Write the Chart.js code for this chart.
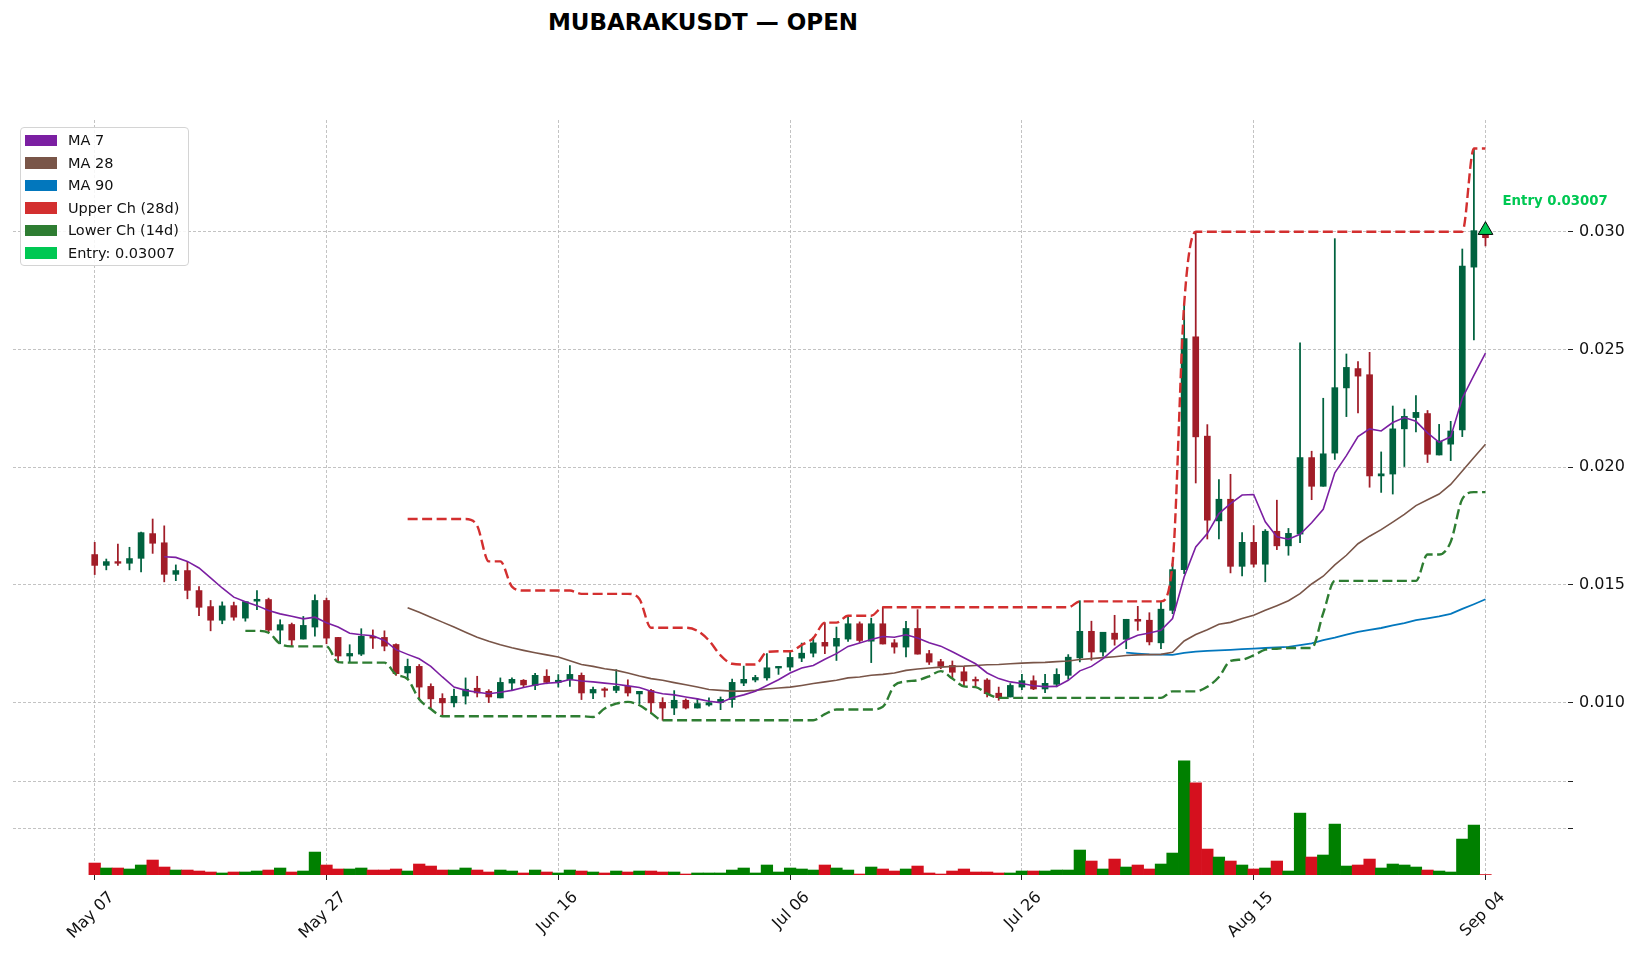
<!DOCTYPE html>
<html>
<head>
<meta charset="utf-8">
<title>MUBARAKUSDT — OPEN</title>
<script src="https://cdn.jsdelivr.net/npm/chart.js@4.4.1/dist/chart.umd.min.js"></script>
<style>
    html, body { margin: 0; padding: 0; background: #fff; }
    #wrap { position: relative; width: 1638px; height: 955px; font-family: 'DejaVu Sans', sans-serif; overflow: hidden; }
    #chart-title { position: absolute; left: 0; top: 11px; width: 1406px; text-align: center; font-weight: bold; font-size: 23px; line-height: 23px; color: #000; }
    #price-chart { position: absolute; left: 0; top: 0; }
    #volume-chart { position: absolute; left: 0; top: 750px; }
    #chart-legend { position: absolute; left: 20px; top: 127px; width: 169px; height: 139px; box-sizing: border-box;
        border: 1px solid #d4d4d4; border-radius: 4px; background: rgba(255, 255, 255, 0.85); padding-top: 1px; }
    .legend-row { height: 22.5px; display: flex; align-items: center; font-size: 14.5px; color: #111; }
    .legend-patch { width: 32px; height: 11.5px; margin-left: 4px; margin-right: 11px; }
</style>
</head>
<body>
<div id="wrap">
    <div id="chart-title">MUBARAKUSDT — OPEN</div>
    <canvas id="price-chart" width="1638" height="760"></canvas>
    <canvas id="volume-chart" width="1638" height="205"></canvas>
    <div id="chart-legend"></div>
</div>
<script>
// day index 0 = May 07, 120 = Sep 04
const tickDays = [0, 20, 40, 60, 80, 100, 120];
const tickLabels = ['May 07', 'May 27', 'Jun 16', 'Jul 06', 'Jul 26', 'Aug 15', 'Sep 04'];
const priceTicks = [0.010, 0.015, 0.020, 0.025, 0.030];
const volumeTicks = [10, 20];

const opens = [
    .01629, .01583, .01599, .01592, .01613, .01718, .01679, .01545, .01561, .01476,
    .01408, .0135, .01412, .01359, .01431, .01438, .01308, .01332, .0127, .01321,
    .01434, .01277, .01198, .01206, .01282, .01277, .01247, .01126, .01154, .01069,
    .01018, .00999, .01028, .01061, .01048, .0102, .01083, .01095, .01073, .01112,
    .01086, .01097, .01116, .01041, .01056, .01052, .01069, .01037, .01052, .01001,
    .00977, .0101, .00977, .0099, .01, .01013, .01083, .01096, .01105, .01147,
    .01151, .01189, .0121, .01256, .0124, .0127, .01335, .01261, .01335, .01254,
    .01236, .01315, .01208, .01174, .01158, .01131, .01096, .01096, .0104, .01024,
    .01066, .01093, .01058, .01078, .01116, .0119, .01303, .01215, .01295, .01269,
    .01354, .0135, .01254, .01392, .01565, .02554, .02132, .01772, .01864, .01579,
    .01681, .01588, .01728, .01666, .01716, .02041, .01919, .0206, .02337, .02419,
    .02393, .01963, .01971, .02163, .02211, .02228, .02052, .02098, .02158, .0285,
    .03007
];
const highs = [
    .01681, .0161, .01674, .0166, .01725, .0178, .01751, .01585, .01596, .01493,
    .01434, .01428, .01427, .01429, .01476, .01444, .01352, .01338, .01366, .01458,
    .01444, .01277, .01246, .01314, .01309, .01305, .0125, .01185, .01162, .0108,
    .01038, .01058, .01105, .01112, .01055, .01105, .01105, .01098, .01124, .0114,
    .01119, .01157, .01126, .01066, .01064, .0114, .01097, .01048, .01056, .01021,
    .01051, .01016, .01017, .0102, .01024, .011, .01155, .01116, .01208, .01154,
    .01216, .01253, .01278, .0134, .01321, .01369, .01343, .01359, .01405, .01268,
    .01345, .01395, .01222, .01184, .01177, .01151, .01109, .01102, .01066, .01081,
    .0112, .01114, .0112, .01144, .01204, .01433, .01346, .01299, .01371, .01354,
    .01409, .01382, .01428, .01591, .0269, .030, .02181, .01948, .0197, .01722,
    .01752, .01735, .0186, .0174, .02528, .02068, .02293, .02971, .02481, .02449,
    .02488, .02065, .0226, .02247, .02304, .02241, .02182, .02195, .02927, .03354,
    .03007
];
const lows = [
    .01544, .01564, .01583, .01564, .01555, .01634, .01513, .01518, .01441, .01369,
    .01305, .01335, .0135, .01346, .01395, .01297, .0125, .01239, .0127, .01282,
    .0125, .01172, .01174, .012, .0123, .0122, .01116, .011, .01014, .00973,
    .00942, .00982, .00994, .01024, .01, .0102, .01052, .01066, .01055, .0108,
    .01066, .01069, .01013, .01017, .01024, .01042, .01028, .00996, .00956, .00925,
    .00949, .00973, .00977, .00985, .0097, .0098, .01072, .01088, .01095, .0112,
    .01137, .01174, .01194, .01208, .01179, .0126, .01256, .0117, .01249, .0121,
    .01194, .01206, .01162, .01144, .01106, .01071, .01069, .01024, .0101, .01024,
    .01055, .01055, .01042, .01067, .01099, .01173, .0118, .01197, .01244, .01229,
    .01307, .01245, .01229, .01378, .01548, .01933, .01695, .01695, .01551, .01538,
    .01576, .01513, .0165, .01626, .0168, .01862, .01919, .02033, .02215, .02231,
    .01915, .01893, .01886, .02003, .0215, .0202, .02052, .02028, .0213, .02541,
    .0294
];
const closes = [
    .01583, .01599, .01592, .01612, .01722, .01677, .01545, .01561, .01477, .01405,
    .0135, .01411, .01363, .01429, .01439, .01308, .01331, .01266, .01328, .01434,
    .01274, .01198, .01209, .01282, .01274, .0124, .01123, .01154, .01066, .01016,
    .00999, .01027, .01057, .01041, .01024, .01086, .01099, .01075, .01116, .01086,
    .01095, .0112, .01041, .01056, .01052, .01069, .01041, .01048, .00999, .00977,
    .0101, .00977, .00996, .01, .01014, .01086, .01099, .01107, .01148, .01154,
    .01192, .0121, .01254, .0124, .01273, .01335, .01264, .01335, .01249, .01236,
    .01315, .01206, .01172, .01154, .01129, .01092, .01092, .01038, .01021, .01073,
    .01093, .01058, .01082, .0112, .01193, .01303, .01215, .01299, .01269, .01354,
    .01346, .01258, .01397, .01565, .02547, .02129, .01775, .01864, .01579, .01681,
    .01588, .01728, .01666, .01719, .02041, .01919, .02057, .02338, .02424, .02387,
    .01963, .01972, .02163, .02216, .02233, .02055, .02111, .02154, .02854, .03005,
    .02975
];
// volume in millions
const volumes = [
    2.55, 1.49, 1.49, 1.28, 2.13, 3.19, 1.70, 1.06, 1.06, 0.85,
    0.64, 0.43, 0.64, 0.64, 0.85, 1.06, 1.49, 0.64, 0.85, 4.89,
    2.13, 1.28, 1.28, 1.49, 1.06, 1.06, 1.28, 0.85, 2.34, 1.91,
    1.06, 1.06, 1.49, 1.06, 0.64, 1.06, 0.85, 0.43, 1.06, 0.64,
    0.43, 1.06, 0.85, 0.64, 0.43, 0.85, 0.64, 0.85, 0.85, 0.64,
    0.64, 0.21, 0.43, 0.43, 0.43, 1.06, 1.49, 0.43, 2.13, 0.64,
    1.49, 1.28, 1.06, 2.13, 1.49, 1.06, 0.21, 1.70, 1.28, 0.85,
    1.28, 1.91, 0.43, 0.21, 0.85, 1.28, 0.64, 0.64, 0.43, 0.43,
    0.85, 0.85, 0.85, 1.06, 1.06, 5.32, 2.98, 1.28, 3.40, 1.70,
    2.13, 1.28, 2.34, 4.68, 24.33, 19.65, 5.53, 3.83, 2.98, 2.13,
    1.28, 1.49, 2.98, 0.85, 13.19, 3.83, 4.26, 10.85, 1.91, 2.13,
    3.40, 1.49, 2.34, 2.13, 1.70, 1.06, 0.85, 0.64, 7.66, 10.64,
    0.10
];

// indicator lines, each starts at its own day index
const ma7Start = 6;
const ma7 = [
    .0162, .01617, .016, .01572, .0153, .01487, .01448, .01429, .01412, .01391,
    .01377, .01367, .01356, .01363, .01339, .01321, .01295, .01288, .01284, .01264,
    .01225, .01205, .01186, .01154, .01109, .01066, .01052, .01044, .01038, .01044,
    .01052, .01064, .01075, .01082, .01086, .01098, .01092, .01088, .01083, .01078,
    .01071, .01064, .01048, .01038, .01033, .01024, .01016, .01006, .01, .01021,
    .01033, .01048, .01073, .01097, .01126, .01147, .01158, .01184, .01208, .01239,
    .01253, .01268, .01281, .01278, .01288, .01275, .01254, .0124, .01216, .01191,
    .01165, .01126, .01102, .01088, .01081, .01072, .01068, .01069, .01095, .01135,
    .01154, .01187, .01229, .01265, .01286, .01296, .01307, .01357, .01534, .01661,
    .01718, .01803, .01845, .01882, .01884, .01768, .01705, .01694, .01715, .01764,
    .01821, .01976, .02049, .0213, .02163, .02154, .0219, .02211, .02195, .02146,
    .02106, .0213, .02293, .0239, .02485
];
const ma28Start = 27;
const ma28 = [
    .01403, .01384, .01363,
    .01342, .01321, .01299, .01278, .01261, .01246, .01233, .01222, .01212, .01203,
    .01194, .01178, .01162, .01154, .01144, .01137, .01126, .01113, .01102, .01095,
    .01085, .01076, .01066, .01056, .01052, .01049, .01049, .01052, .01058, .01062,
    .01066, .01073, .01081, .01088, .01095, .01105, .01109, .01116, .0112, .01126,
    .01137, .01143, .01147, .01151, .01154, .01155, .01158, .01161, .01162, .01165,
    .01168, .0117, .01171, .01174, .01177, .01183, .01187, .01191, .01195, .012,
    .01203, .01204, .01205, .01214, .01262, .01289, .0131, .01333, .01341, .01357,
    .01371, .01392, .01412, .01433, .01463, .01504, .01537, .01585, .01626, .01675,
    .01707, .01735, .01767, .018, .01837, .01862, .01886, .01927, .01984, .02041,
    .02098
];
const ma90Start = 89;
const ma90 = [
    .01212, .01208, .01205, .01204, .01203, .01211, .01217, .0122, .01222, .01224,
    .01227, .01229, .01232, .01235, .01237, .01244, .01252, .01265, .01276, .01289,
    .01301, .01309, .01317, .01328, .01338, .0135, .01358, .01366, .01377, .01398,
    .01418, .01439
];
const upperStart = 27;
const upperCh = [
    .0178, .0178, .0178, .0178, .0178, .0178, .01751, .016, .016, .01493,
    .01476, .01476, .01476, .01476, .01476, .01462, .01462, .01462, .01462, .01462,
    .0144, .01318, .01318, .01318, .01318, .01305, .01264, .01201, .01165, .01162,
    .01162, .01215, .01218, .01218, .01245, .01274, .0134, .0134, .01369, .01369,
    .01369, .01405, .01405, .01405, .01405, .01405, .01405, .01405, .01405, .01405,
    .01405, .01405, .01405, .01405, .01405, .01405, .01405, .01405, .0143, .0143,
    .0143, .0143, .0143, .0143, .0143, .0143, .01591, .0269, .030, .030,
    .030, .030, .030, .030, .030, .030, .030, .030, .030, .030,
    .030, .030, .030, .030, .030, .030, .030, .030, .030, .030,
    .030, .030, .03354, .03354
];
const lowerStart = 13;
const lowerCh = [
    .01305, .01305, .01297, .0125, .01239, .01239, .01239, .01239, .01172, .0117,
    .0117, .0117, .0117, .0112, .011, .01014, .00973, .00942, .00942, .00942,
    .00942, .00942, .00942, .00942, .00942, .00942, .00942, .00942, .00942, .00942,
    .00939, .00975, .00996, .01003, .00989, .00956, .00925, .00925, .00925, .00925,
    .00925, .00925, .00925, .00925, .00925, .00925, .00925, .00925, .00925, .00925,
    .00951, .00971, .00971, .00971, .00971, .00982, .01073, .0109, .01095, .01112,
    .01134, .01102, .01069, .01066, .01038, .01021, .0102, .0102, .0102, .0102,
    .0102, .0102, .0102, .0102, .0102, .0102, .0102, .0102, .0102, .0102,
    .01048, .01048, .01048, .01067, .01109, .01177, .01183, .01201, .01225, .01229,
    .01232, .01232, .01232, .0138, .01517, .01517, .01517, .01517, .01517, .01517,
    .01517, .01517, .01629, .01629, .01683, .01865, .01894, .01894
];

const entryDay = 120;
const entryPrice = 0.03007;

const seriesNames = ['MA 7', 'MA 28', 'MA 90', 'Upper Ch (28d)', 'Lower Ch (14d)', 'Entry: 0.03007'];
const seriesColors = ['#7b1fa2', '#795548', '#0277bd', '#d32f2f', '#2e7d32', '#00c853'];

const CANDLE_UP = '#00623f';
const CANDLE_DOWN = '#a11d28';
const VOL_UP = '#008000';
const VOL_DOWN = '#d5101e';
const GRID_COLOR = '#b4b4b4';
const FONT = 'DejaVu Sans';

// x range shared by both panels so the days line up
const X_MIN = -7.05;
const X_MAX = 127.12;
const P_MIN = 0.00803;
const P_MAX = 0.03475;

const toPoints = (values, start) => values.map((v, k) => ({ x: start + k, y: v }));
const isUp = opens.map((o, i) => closes[i] >= o);

const lineDataset = (label, values, start, color, extra) => Object.assign({
    type: 'line',
    label: label,
    data: toPoints(values, start),
    borderColor: color,
    backgroundColor: color,
    borderWidth: 1.6,
    pointRadius: 0,
    fill: false,
    tension: 0,
    order: 2
}, extra || {});

const channelStyle = {
    borderWidth: 2.4,
    borderDash: [10, 4.5],
    cubicInterpolationMode: 'monotone',
    order: 1
};

const wickDataset = {
    type: 'bar',
    label: 'wicks',
    data: lows.map((l, i) => ({ x: i, y: [l, highs[i]] })),
    backgroundColor: isUp.map(u => u ? CANDLE_UP : CANDLE_DOWN),
    barThickness: 1.1,
    grouped: false,
    borderWidth: 0,
    order: 4
};

const bodyDataset = {
    type: 'bar',
    label: 'bodies',
    data: opens.map((o, i) => ({ x: i, y: [o, closes[i]] })),
    backgroundColor: isUp.map(u => u ? CANDLE_UP : CANDLE_DOWN),
    barThickness: 6,
    minBarLength: 1.5,
    grouped: false,
    borderWidth: 0,
    order: 3
};

const entryDataset = {
    type: 'line',
    label: 'entry',
    data: [{ x: entryDay, y: entryPrice }],
    showLine: false,
    pointStyle: 'triangle',
    pointRadius: 8.5,
    pointBackgroundColor: '#00c853',
    pointBorderColor: '#000',
    pointBorderWidth: 1,
    order: 0
};

// text next to the entry marker
const entryLabelPlugin = {
    id: 'entryLabel',
    afterDatasetsDraw(chart) {
        const ctx = chart.ctx;
        const px = chart.scales.x.getPixelForValue(entryDay);
        const py = chart.scales.y.getPixelForValue(entryPrice);
        ctx.save();
        ctx.font = `bold 13.3px "${FONT}"`;
        ctx.fillStyle = '#00c853';
        ctx.textAlign = 'left';
        ctx.textBaseline = 'alphabetic';
        ctx.fillText(`Entry ${entryPrice.toFixed(5)}`, px + 17, py - 25);
        ctx.restore();
    }
};

const sharedX = (showLabels) => ({
    type: 'linear',
    min: X_MIN,
    max: X_MAX,
    offset: false,
    grid: {
        color: GRID_COLOR,
        lineWidth: 0.8,
        offset: false,
        drawTicks: showLabels,
        tickLength: 5,
        tickColor: '#222',
        tickWidth: 1,
        tickBorderDash: []
    },
    border: { display: false, dash: [3, 2] },
    ticks: {
        display: showLabels,
        autoSkip: false,
        maxRotation: 45,
        minRotation: 45,
        labelOffset: 17,
        padding: 8,
        color: '#111',
        font: { family: FONT, size: 16 },
        callback: (value) => {
            const k = tickDays.indexOf(value);
            return k >= 0 ? tickLabels[k] : '';
        }
    },
    afterBuildTicks: (scale) => { scale.ticks = tickDays.map(v => ({ value: v })); },
    afterFit: (scale) => {
        scale.height = showLabels ? 80 : 0;
        scale.paddingLeft = 0;
        scale.paddingRight = 0;
    }
});

const rightY = (min, max, ticks, showLabels) => ({
    position: 'right',
    min: min,
    max: max,
    grid: {
        color: GRID_COLOR,
        lineWidth: 0.8,
        tickLength: 5,
        tickColor: '#222',
        tickWidth: 1,
        tickBorderDash: []
    },
    border: { display: false, dash: [3, 2] },
    ticks: {
        color: '#111',
        padding: 6,
        font: { family: FONT, size: 16 },
        callback: (v) => showLabels ? v.toFixed(3) : ''
    },
    afterBuildTicks: (scale) => { scale.ticks = ticks.map(v => ({ value: v })); },
    afterFit: (scale) => {
        scale.width = 70;
        scale.paddingTop = 0;
        scale.paddingBottom = 0;
    }
});

const priceChart = new Chart(document.getElementById('price-chart'), {
    type: 'line',
    data: {
        datasets: [
            entryDataset,
            lineDataset(seriesNames[3], upperCh, upperStart, seriesColors[3], channelStyle),
            lineDataset(seriesNames[4], lowerCh, lowerStart, seriesColors[4], channelStyle),
            lineDataset(seriesNames[0], ma7, ma7Start, seriesColors[0]),
            lineDataset(seriesNames[1], ma28, ma28Start, seriesColors[1]),
            lineDataset(seriesNames[2], ma90, ma90Start, seriesColors[2], { borderWidth: 1.8 }),
            bodyDataset,
            wickDataset
        ]
    },
    options: {
        responsive: false,
        animation: false,
        layout: { padding: { left: 13, top: 120, right: 0, bottom: 11 } },
        plugins: {
            legend: { display: false },
            tooltip: { enabled: false },
            title: { display: false }
        },
        scales: {
            x: sharedX(false),
            y: rightY(P_MIN, P_MAX, priceTicks, true)
        }
    },
    plugins: [entryLabelPlugin]
});

const volumeChart = new Chart(document.getElementById('volume-chart'), {
    type: 'bar',
    data: {
        datasets: [{
            label: 'Volume',
            data: toPoints(volumes, 0),
            backgroundColor: isUp.map(u => u ? VOL_UP : VOL_DOWN),
            barThickness: 11.6,
            grouped: false,
            borderWidth: 0
        }]
    },
    options: {
        responsive: false,
        animation: false,
        layout: { padding: { left: 13, top: 3, right: 0, bottom: 0 } },
        plugins: {
            legend: { display: false },
            tooltip: { enabled: false }
        },
        scales: {
            x: sharedX(true),
            y: rightY(0, 26, volumeTicks, false)
        }
    }
});

// legend box, top left of the price panel
const legendBox = document.getElementById('chart-legend');
seriesNames.forEach((name, k) => {
    const row = document.createElement('div');
    row.className = 'legend-row';
    const patch = document.createElement('span');
    patch.className = 'legend-patch';
    patch.style.background = seriesColors[k];
    const text = document.createElement('span');
    text.textContent = name;
    row.appendChild(patch);
    row.appendChild(text);
    legendBox.appendChild(row);
});
</script>
</body>
</html>
